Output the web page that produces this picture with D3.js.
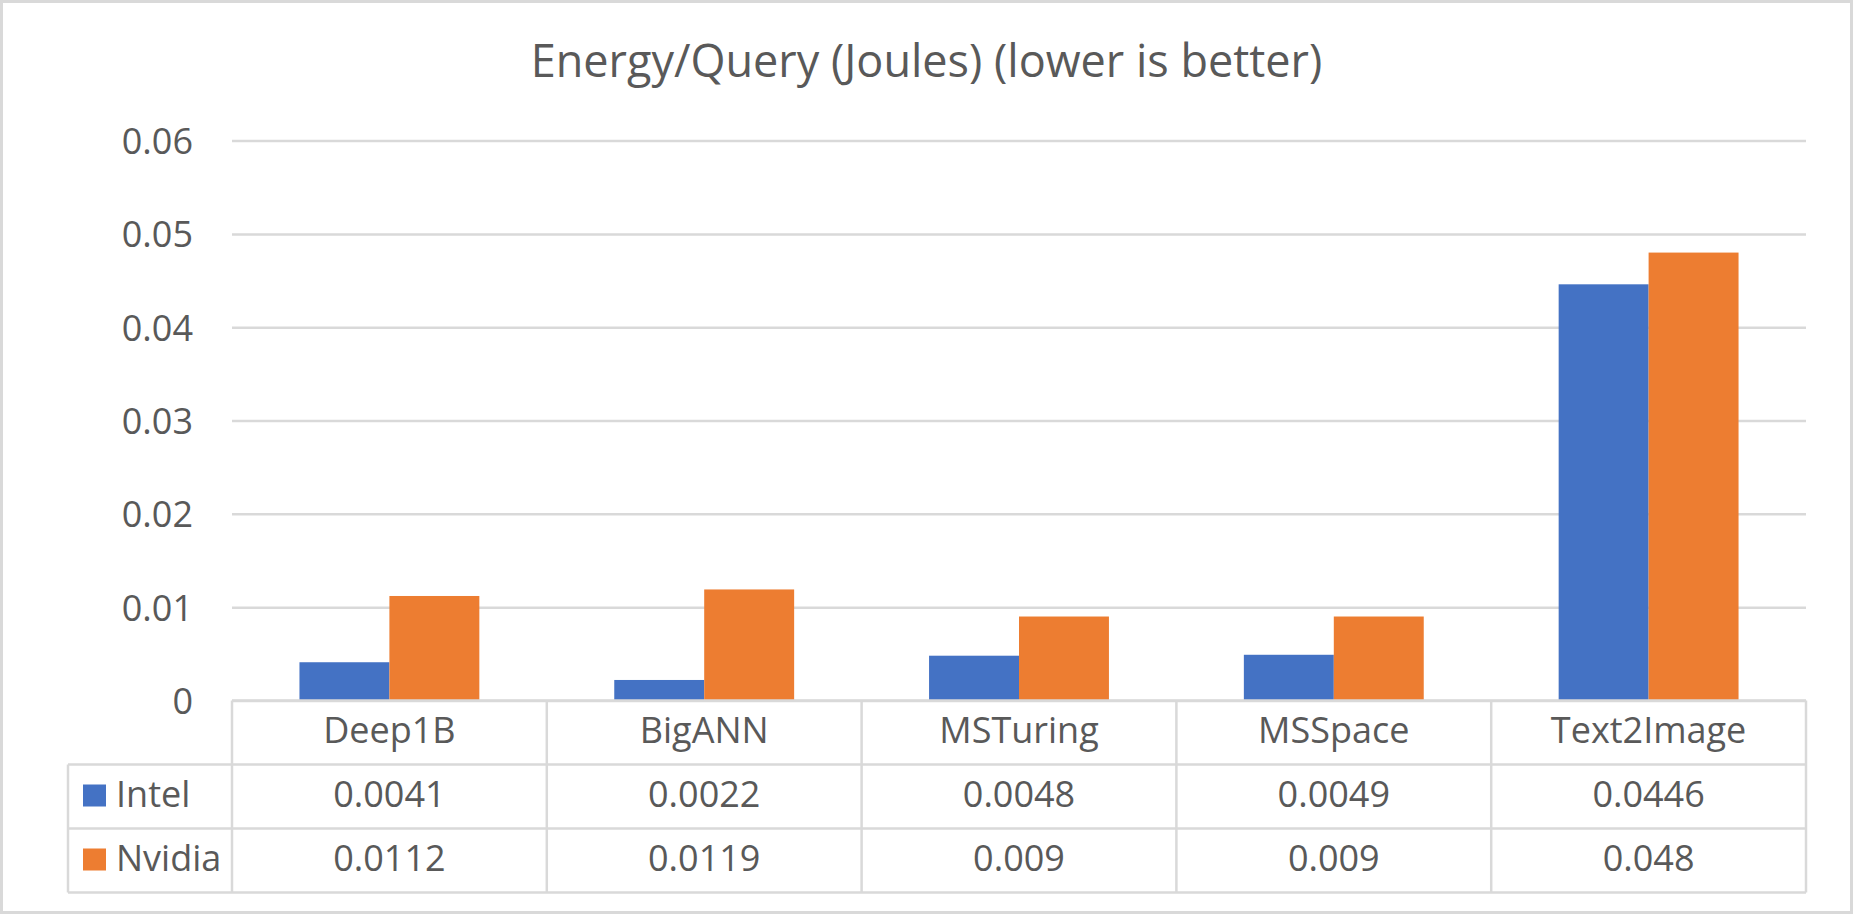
<!DOCTYPE html>
<html>
<head>
<meta charset="utf-8">
<script src="https://cdn.jsdelivr.net/npm/d3@7"></script>
<style>
  body { margin: 0; background: #fff; }
  svg { display: block; font-family: "Open Sans", "Noto Sans", sans-serif; }
</style>
</head>
<body>
<svg id="chart"></svg>
<script>
const categories = ["Deep1B", "BigANN", "MSTuring", "MSSpace", "Text2Image"];
const seriesNames = ["Intel", "Nvidia"];
const intelValues = [0.0041, 0.0022, 0.0048, 0.0049, 0.0446];
const nvidiaValues = [0.0112, 0.0119, 0.009, 0.009, 0.048];
const seriesColors = ["#4472c4", "#ed7d31"];
const titleText = "Energy/Query (Joules) (lower is better)";

const W = 1853, H = 914;
const svg = d3.select("#chart").attr("width", W).attr("height", H);

const plotLeft = 232, plotRight = 1806;
const plotTop = 140.6, plotBottom = 700.5;
const rowH = 64;
const tableLeft = 68;
const textColor = "#595959";
const lineColor = "#d9d9d9";

// outer frame
svg.append("rect")
    .attr("x", 1.5).attr("y", 1.5)
    .attr("width", W - 3).attr("height", H - 3)
    .attr("fill", "#fff")
    .attr("stroke", lineColor)
    .attr("stroke-width", 3);

svg.append("text")
    .attr("x", W / 2)
    .attr("y", 77)
    .attr("text-anchor", "middle")
    .attr("font-size", 45)
    .attr("fill", textColor)
    .text(titleText);

const y = d3.scaleLinear().domain([0, 0.06]).range([plotBottom, plotTop]);
const x0 = d3.scaleBand().domain(categories).range([plotLeft, plotRight]).padding(0);
const x1 = d3.scaleBand().domain(seriesNames).range([0, x0.bandwidth()])
    .paddingInner(0).paddingOuter(0.75);

// gridlines
const grid = svg.append("g")
    .attr("transform", `translate(${plotLeft},0)`)
    .call(d3.axisLeft(y).ticks(6).tickSize(-(plotRight - plotLeft)).tickFormat(""));
grid.select(".domain").remove();
grid.selectAll("line").attr("stroke", lineColor).attr("stroke-width", 2.5);

// y labels
const yAxis = svg.append("g")
    .attr("transform", `translate(${plotLeft - 39},0)`)
    .call(d3.axisLeft(y).ticks(6).tickSize(0).tickPadding(0)
        .tickFormat(d => d === 0 ? "0" : d3.format(".2f")(d)));
yAxis.select(".domain").remove();
yAxis.selectAll("text")
    .attr("font-size", 36)
    .attr("font-family", "'Open Sans', 'Noto Sans', sans-serif")
    .attr("fill", textColor)
    .attr("dy", "0.357em");

// bars
const rows = categories.map((c, i) => ({ cat: c, vals: [intelValues[i], nvidiaValues[i]] }));
const groups = svg.append("g").selectAll("g")
    .data(rows)
    .join("g")
    .attr("transform", d => `translate(${x0(d.cat)},0)`);
groups.selectAll("rect")
    .data(d => d.vals.map((v, j) => ({ name: seriesNames[j], v, j })))
    .join("rect")
    .attr("x", d => x1(d.name))
    .attr("y", d => y(d.v))
    .attr("width", x1.bandwidth())
    .attr("height", d => plotBottom - y(d.v))
    .attr("fill", d => seriesColors[d.j]);

// data table
const table = svg.append("g")
    .attr("stroke", lineColor)
    .attr("stroke-width", 2.5)
    .attr("fill", "none");
table.append("line")
    .attr("x1", plotLeft).attr("x2", plotRight)
    .attr("y1", plotBottom).attr("y2", plotBottom);
[1, 2, 3].forEach(k => {
    table.append("line")
        .attr("x1", tableLeft).attr("x2", plotRight)
        .attr("y1", plotBottom + k * rowH).attr("y2", plotBottom + k * rowH);
});
table.append("line")
    .attr("x1", tableLeft).attr("x2", tableLeft)
    .attr("y1", plotBottom + rowH).attr("y2", plotBottom + 3 * rowH);
categories.concat([null]).forEach((c, i) => {
    const xx = c === null ? plotRight : x0(c);
    table.append("line")
        .attr("x1", xx).attr("x2", xx)
        .attr("y1", plotBottom).attr("y2", plotBottom + 3 * rowH);
});

const cellText = (xx, row, txt, anchor) => svg.append("text")
    .attr("x", xx)
    .attr("y", plotBottom + row * rowH + rowH / 2 + 10.5)
    .attr("text-anchor", anchor)
    .attr("font-size", 36)
    .attr("fill", textColor)
    .text(txt);

categories.forEach((c, i) => {
    const cx = x0(c) + x0.bandwidth() / 2;
    cellText(cx, 0, c, "middle");
    cellText(cx, 1, String(intelValues[i]), "middle");
    cellText(cx, 2, String(nvidiaValues[i]), "middle");
});

seriesNames.forEach((s, j) => {
    const rowMid = plotBottom + (j + 1) * rowH + rowH / 2;
    svg.append("rect")
        .attr("x", 83).attr("y", rowMid - 12)
        .attr("width", 23).attr("height", 22)
        .attr("fill", seriesColors[j]);
    cellText(116, j + 1, s, "start");
});
</script>
</body>
</html>
